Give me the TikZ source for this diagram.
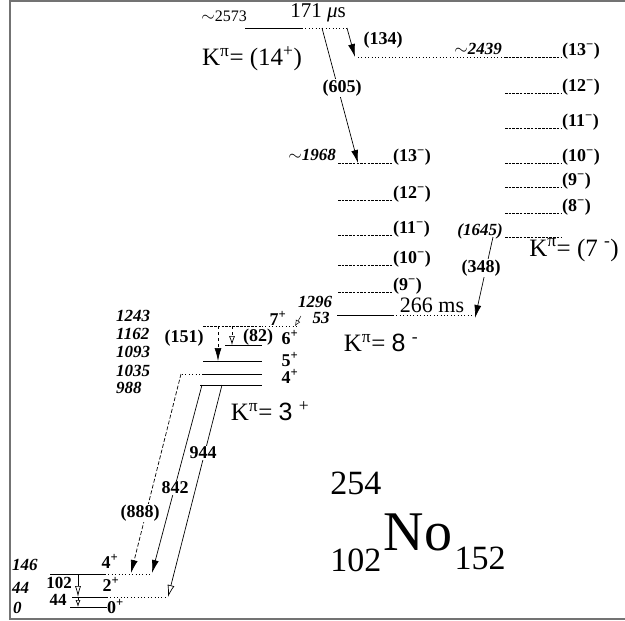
\documentclass[tikz,border=0pt]{standalone}
\usepackage{fontspec}
\setmainfont{Liberation Serif}
\setsansfont{Liberation Sans}
\usetikzlibrary{arrows.meta}
\newcommand{\jpar}[2]{(#1\textsuperscript{#2})}
\newcommand{\kpi}{K\textsuperscript{π}}

\begin{document}
\begin{tikzpicture}[x=1pt,y=-1pt,
  lev/.style={line width=0.8pt},
  dlev/.style={line width=0.6pt, dash pattern=on 2.5pt off 1.2pt},
  dotl/.style={line width=0.6pt, dash pattern=on 0.8pt off 2.6pt},
  gam/.style={line width=0.7pt, -{Latex[length=13pt,width=7pt]}},
  gamo/.style={line width=0.7pt, -{Latex[open,length=12pt,width=7pt]}},
  en/.style={font=\fontsize{17}{19}\selectfont\bfseries\itshape, inner sep=0pt},
  gl/.style={font=\fontsize{18}{20}\selectfont\bfseries, inner sep=1pt},
  sl/.style={font=\fontsize{18}{20}\selectfont\bfseries, inner sep=0pt},
  kl/.style={font=\fontsize{25}{27}\selectfont, inner sep=0pt}
]
\useasboundingbox (0,0) rectangle (625,621);
\draw[black!55, line width=1.2pt] (625,1) -- (10,1) -- (10,619) -- (625,619);

% --- K = (14+) isomer ---
\draw[lev] (245,28) coordinate (i14w) -- (302,28) coordinate (i14e);
\draw[dotl] (i14e) -- (347,28);
\node[font=\fontsize{16}{17}\selectfont, anchor=base east, inner sep=0pt] (e2573) at ([xshift=2pt,yshift=7pt]i14w) {$\sim$2573};
\node[font=\fontsize{21}{23}\selectfont, inner sep=0pt] (t171) at (318,13) {171 {\itshape μ}s};
\node[kl] (k14) at (252,59) {\kpi= \jpar{14}{+}};

% --- K = (7-) band ---
\draw[dotl] (358,57) -- (505,57);
\foreach \y/\j in {57/13,93/12,128/11,163/10,187/9,213/8}{
  \draw[dlev] (505,\y) -- (562,\y) coordinate (r\j);
  \node[sl, anchor=base west] (sr\j) at ([yshift=2pt]r\j) {\jpar{\j}{−}};
}
\node[en, anchor=base east] (e2439) at (502,54) {$\sim$2439};
\draw[dlev] (505,237) coordinate (l1645w) -- (562,237);
\node[en, anchor=base east] (e1645) at ([xshift=-2pt,yshift=2pt]l1645w) {(1645)};
\node[kl] (k7) at (574,250) {\kpi = (7 \textsuperscript{-})};

% --- K = 8- band ---
\foreach \y/\j in {163/13,200/12,235/11,265/10,292/9}{
  \draw[dlev] (338,\y) coordinate (m\j w) -- (393,\y) coordinate (m\j);
  \node[sl, anchor=base west] (sm\j) at ([yshift=2pt]m\j) {\jpar{\j}{−}};
}
\node[en, anchor=base east] (e1968) at ([xshift=-2pt,yshift=3pt]m13w) {$\sim$1968};
\draw[lev] (337,315) -- (393,315) coordinate (i8e);
\draw[dotl] (i8e) -- (475,315);
\node[en] (e1296) at (315,302) {1296};
\node[font=\fontsize{22}{24}\selectfont, inner sep=0pt] (t266) at (432,305) {266 ms};
\node[kl] (k8) at (381,343) {\kpi = {\sffamily 8} \textsuperscript{-}};

% --- K = 3+ band ---
\draw[dlev] (203,326) -- (262,326) coordinate (b7e);
\draw[dotl] (b7e) -- (297,326);
\draw[lev] (225,345) -- (262,345);
\draw[lev] (203,361) -- (262,361);
\draw[dotl] (182,374) -- (203,374);
\draw[lev] (203,374) -- (262,374);
\draw[lev] (200,385) -- (262,385);
\foreach \y/\e in {321/1243,339/1162,357/1093,376/1035,393/988}
  \node[en, anchor=base west] (e\e) at (116,\y) {\e};
\node[sl, anchor=base] (s7) at (278,325) {7\textsuperscript{+}};
\node[sl, anchor=base] (s6) at (290,344) {6\textsuperscript{+}};
\node[sl, anchor=base] (s5) at (290,366) {5\textsuperscript{+}};
\node[sl, anchor=base] (s4) at (290,383) {4\textsuperscript{+}};
\node[kl] (k3) at (270,411) {\kpi = {\sffamily 3} \textsuperscript{+}};

% --- ground band ---
\draw[lev] (50,574) -- (105,574) coordinate (g4e);
\draw[dotl] (g4e) -- (152,574);
\draw[lev] (72,597) -- (107,597) coordinate (g2e);
\draw[dotl] (g2e) -- (167,597);
\draw[lev] (70,607) -- (107,607) coordinate (g0e);
\node[en, anchor=base west] (e146) at (12,570) {146};
\node[en, anchor=base west] (e44) at (12,593) {44};
\node[en, anchor=base west] (e0) at (13,613) {0};
\node[sl, anchor=base] (s4g) at (110,568) {4\textsuperscript{+}};
\node[sl, anchor=base] (s2g) at (111,591) {2\textsuperscript{+}};
\node[sl, anchor=base west] (s0g) at ([yshift=-6pt]g0e) {0\textsuperscript{+}};

% --- transitions ---
\coordinate (a605) at (322,28);   \coordinate (b605) at (358,163);
\coordinate (a134) at (347,28);   \coordinate (b134) at (355,57);
\coordinate (a348) at (493,237);  \coordinate (b348) at (475,318);
\coordinate (a53) at (301,316);   \coordinate (b53) at (295,326);
\coordinate (a151) at (218,326);  \coordinate (b151) at (218,361);
\coordinate (a82) at (232,326);   \coordinate (b82) at (232,345);
\coordinate (a842) at (202,385);  \coordinate (b842) at (152,573);
\coordinate (a944) at (222,385);  \coordinate (b944) at (168,597);
\coordinate (a888) at (181,374);  \coordinate (b888) at (131,573);
\coordinate (a102) at (78,574);   \coordinate (b102) at (78,597);
\coordinate (b44) at (78,607);

\draw[gam] (a605) -- (b605);
\draw[gam] (a134) -- (b134);
\draw[gam] (a348) -- (b348);
\draw[line width=0.5pt, -{Latex[open,length=6pt,width=5pt]}] (a53) -- (b53);
\draw[gam, dashed] (a151) -- (b151);
\draw[gamo, dashed, -{Latex[open,length=9pt,width=6pt]}] (a82) -- (b82);
\draw[gam] (a842) -- (b842);
\draw[gamo] (a944) -- (b944);
\draw[gam, dash pattern=on 4pt off 2pt] (a888) -- (b888);
\draw[gamo, -{Latex[open,length=11pt,width=6pt]}] (a102) -- (b102);
\draw[gamo, -{Latex[open,length=7pt,width=5pt]}] (b102) -- (b44);

\node[gl, fill=white] (l605) at (342,88) {(605)};
\node[gl] (l134) at (383,40) {(134)};
\node[gl, fill=white] (l348) at (481,268) {(348)};
\node[en] (l53) at (321,318) {53};
\node[gl] (l151) at (184,338) {(151)};
\node[gl] (l82) at (258,337) {(82)};
\node[gl, fill=white] (l842) at (175,488) {842};
\node[gl, fill=white] (l944) at (203,453) {944};
\node[gl, fill=white] (l888) at (140,513) {(888)};
\node[gl, inner sep=0pt, font=\fontsize{17}{18}\selectfont\bfseries, anchor=base] (l102) at (59,588) {102};
\node[gl, inner sep=0pt, font=\fontsize{17}{18}\selectfont\bfseries, anchor=base] (l44) at (58,605) {44};

% --- nuclide ---
\node[font=\fontsize{56}{60}\selectfont, inner sep=0pt] (no) at (418,532) {No};
\node[font=\fontsize{34}{36}\selectfont, anchor=west, inner sep=0pt] (n152) at ([xshift=2pt]no.east |- 0,558) {152};
\node[font=\fontsize{34}{36}\selectfont, anchor=east, inner sep=0pt] (n102) at ([xshift=-2pt]no.west |- 0,560) {102};
\node[font=\fontsize{34}{36}\selectfont, anchor=east, inner sep=0pt] (n254) at ([xshift=-2pt]no.west |- 0,483) {254};
\end{tikzpicture}
\end{document}
